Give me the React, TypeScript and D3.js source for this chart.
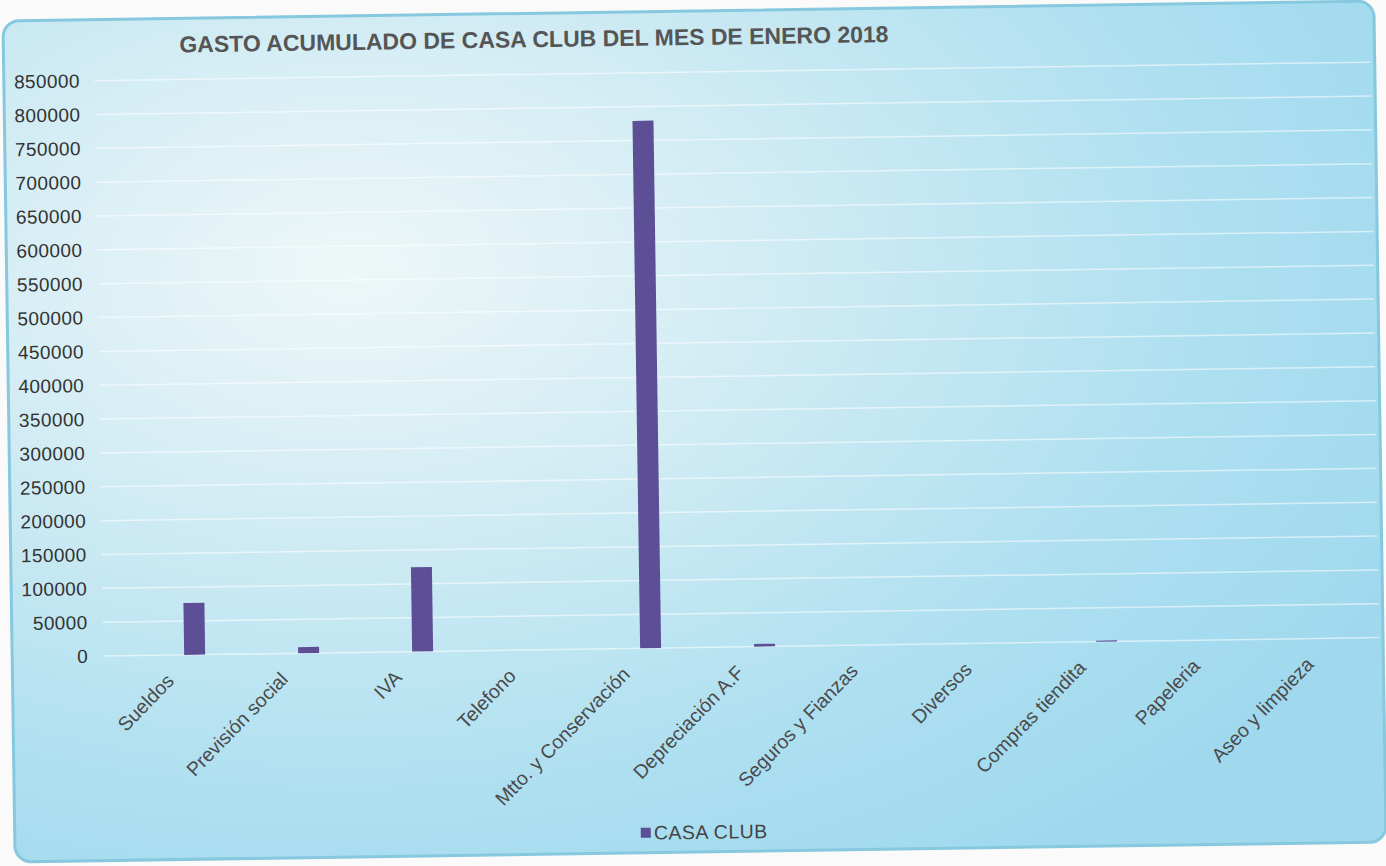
import React from "react";
import * as d3 from "d3";

const categories = [
  "Sueldos",
  "Previsión social",
  "IVA",
  "Telefono",
  "Mtto. y Conservación",
  "Depreciación A.F",
  "Seguros y Fianzas",
  "Diversos",
  "Compras tiendita",
  "Papeleria",
  "Aseo y limpieza",
];
const values = [76500, 9000, 124500, 0, 779000, 4000, 0, 0, 1500, 0, 0];
const yTicks = d3.range(0, 850001, 50000);
const seriesName = "CASA CLUB";
const title = "GASTO ACUMULADO DE CASA CLUB DEL MES DE ENERO 2018";

const W = 1386;
const H = 866;
const plot = { left: 134.5, right: 1388.5, top: 72, bottom: 647.5 };
const barColor = "#5d4f95";
const font = "Liberation Sans, Arial, sans-serif";
const tilt = -0.83; // the scanned page is slightly rotated

export default function App() {
  const x = d3
    .scaleBand<string>()
    .domain(categories)
    .range([plot.left, plot.right])
    .paddingInner(0.816)
    .paddingOuter(0.408);
  const y = d3.scaleLinear().domain([0, 850000]).range([plot.bottom, plot.top]);

  return (
    <svg
      width={W}
      height={H}
      style={{ position: "absolute", left: 0, top: 0, display: "block" }}
    >
      <defs>
        <radialGradient id="bg" cx="0.25" cy="0.3" r="0.85" fx="0.25" fy="0.3">
          <stop offset="0" stopColor="#eef7f8" />
          <stop offset="0.35" stopColor="#d2ecf4" />
          <stop offset="0.75" stopColor="#addff0" />
          <stop offset="1" stopColor="#a0d9ee" />
        </radialGradient>
      </defs>
      <rect x={0} y={0} width={W} height={H} fill="#fafafa" />
      <g transform={`rotate(${tilt}, ${W / 2}, ${H / 2})`}>
        <rect
          x={9}
          y={11}
          width={1371}
          height={841}
          rx={16}
          ry={16}
          fill="url(#bg)"
          stroke="#86c8de"
          strokeWidth={3}
        />
        <text
          x={185}
          y={45}
          fontFamily={font}
          fontWeight="bold"
          fontSize={23}
          fill="#555"
        >
          {title}
        </text>
        {yTicks.map((t) => (
          <g key={t}>
            <line
              x1={100}
              x2={1376}
              y1={y(t)}
              y2={y(t)}
              stroke="#ffffff"
              strokeOpacity={0.55}
              strokeWidth={1.5}
            />
            <text
              x={85}
              y={y(t)}
              dy="0.35em"
              textAnchor="end"
              fontFamily={font}
              fontSize={19}
              letterSpacing={0.4}
              fill="#333"
            >
              {t}
            </text>
          </g>
        ))}
        {categories.map((c, i) => (
          <rect
            key={c}
            x={x(c)}
            y={y(values[i])}
            width={x.bandwidth()}
            height={plot.bottom - y(values[i])}
            fill={barColor}
          />
        ))}
        {categories.map((c) => {
          const cx = (x(c) as number) + x.bandwidth() / 2 - 20;
          const cy = plot.bottom + 27;
          return (
            <text
              key={c}
              x={cx}
              y={cy}
              textAnchor="end"
              transform={`rotate(-45, ${cx}, ${cy})`}
              fontFamily={font}
              fontSize={19.5}
              fill="#4a4a4a"
            >
              {c}
            </text>
          );
        })}
        <rect x={635} y={827} width={10} height={10} fill={barColor} />
        <text
          x={648}
          y={839}
          fontFamily={font}
          fontSize={19.5}
          letterSpacing={0.5}
          fill="#444"
        >
          {seriesName}
        </text>
      </g>
    </svg>
  );
}
